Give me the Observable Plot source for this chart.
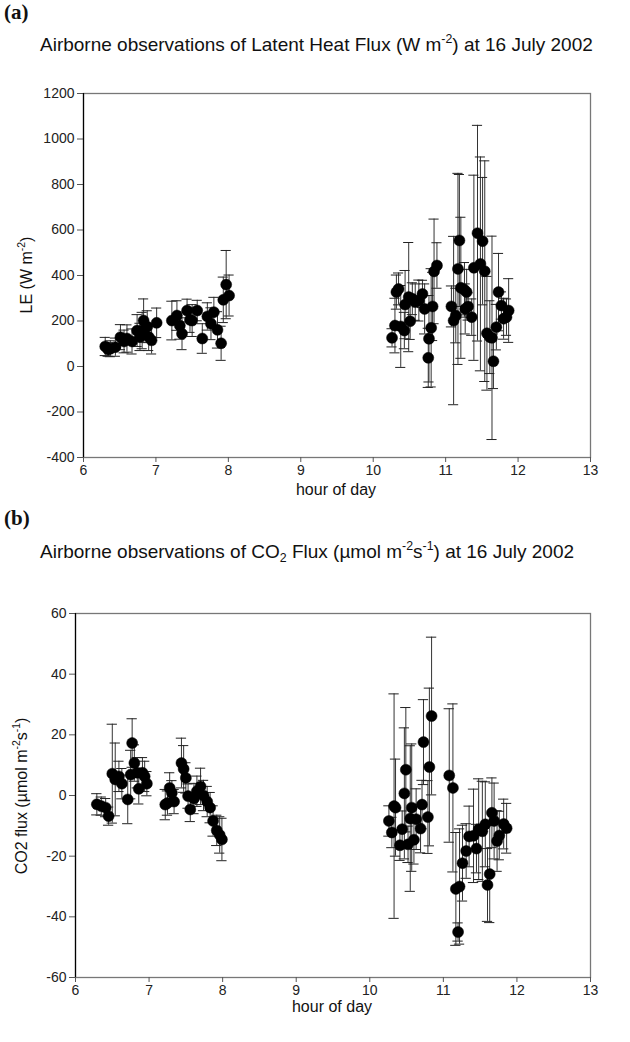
<!DOCTYPE html>
<html><head><meta charset="utf-8">
<script src="https://cdn.jsdelivr.net/npm/d3@7"></script>
<script src="https://cdn.jsdelivr.net/npm/@observablehq/plot@0.6"></script>
<style>
body{margin:0;background:#fff;}
#root{position:relative;width:630px;height:1042px;font-family:"Liberation Sans",Arial,sans-serif;color:#111;overflow:hidden;}
.panel{position:absolute;left:4px;font-family:"Liberation Serif","Times New Roman",serif;font-weight:bold;font-size:21px;line-height:1;}
.title{position:absolute;left:40px;font-size:19px;white-space:nowrap;line-height:1;}
.ylab{position:absolute;transform:translate(-50%,-50%) rotate(-90deg);white-space:nowrap;font-size:16px;line-height:1;}
.xlab{position:absolute;transform:translate(-50%,-50%);white-space:nowrap;font-size:16px;line-height:1;}
.chart{position:absolute;left:0;}
sup,sub{font-size:65%;line-height:0;position:relative;vertical-align:baseline;}
sup{top:-0.65em;}
sub{top:0.35em;}
</style>
</head><body>
<div id="root">
  <div class="panel" style="top:2px">(a)</div>
  <div class="title" style="top:35px">Airborne observations of Latent Heat Flux (W m<sup>-2</sup>) at 16 July 2002</div>
  <div class="chart" id="chartA" style="top:70px"></div>
  <div class="ylab" style="left:27px;top:275px">LE (W m<sup>-2</sup>)</div>
  <div class="xlab" style="left:336px;top:490px">hour of day</div>
  <div class="panel" style="top:508px">(b)</div>
  <div class="title" style="top:542px">Airborne observations of CO<sub>2</sub> Flux (&micro;mol m<sup>-2</sup>s<sup>-1</sup>) at 16 July 2002</div>
  <div class="chart" id="chartB" style="top:590px"></div>
  <div class="ylab" style="left:22px;top:796px">CO2 flux (&micro;mol m<sup>-2</sup>s<sup>-1</sup>)</div>
  <div class="xlab" style="left:332px;top:1007px">hour of day</div>
</div>
<script>
// ---- shared x ticks ----
const xTicks = [6, 7, 8, 9, 10, 11, 12, 13];

// ---- panel (a): Latent heat flux ----
const leTicks = [-400, -200, 0, 200, 400, 600, 800, 1000, 1200];
const leHours = [6.30,6.34,6.37,6.44,6.51,6.56,6.60,6.67,6.74,6.78,6.81,6.83,6.88,6.90,6.94,7.01,
  7.22,7.29,7.33,7.36,7.43,7.47,7.50,7.57,7.64,7.71,7.76,7.80,7.85,7.90,7.93,7.97,8.01,
  10.26,10.30,10.32,10.35,10.38,10.43,10.44,10.49,10.51,10.54,10.58,10.63,10.68,10.71,10.76,10.77,10.80,10.82,10.84,10.88,
  11.08,11.11,11.14,11.17,11.19,11.21,11.26,11.27,11.29,11.31,11.36,11.39,11.44,11.48,11.51,11.54,11.57,11.61,11.64,11.66,
  11.70,11.73,11.77,11.80,11.84,11.87];
const leValues = [88,75,78,85,129,110,123,110,158,130,158,202,175,130,115,192,
  202,224,180,144,246,205,202,246,123,220,188,239,161,102,293,360,312,
  126,180,327,341,176,158,272,305,199,298,283,290,319,253,38,122,170,264,418,444,
  264,202,224,429,554,346,337,253,327,264,217,434,586,451,551,419,146,129,126,23,
  173,327,268,210,217,246];
const leErrors = [40,30,35,40,55,50,60,55,70,60,80,95,70,60,60,65,
  85,65,60,70,50,55,70,45,65,60,70,65,80,75,100,150,90,
  40,120,75,70,180,80,150,240,80,70,80,90,60,110,130,190,260,150,230,100,
  90,370,120,420,290,310,120,110,100,60,80,407,474,470,280,485,250,160,447,120,
  100,170,60,90,80,140];

// ---- panel (b): CO2 flux ----
const co2Ticks = [-60, -40, -20, 0, 20, 40, 60];
const co2Hours = [6.29,6.35,6.41,6.45,6.50,6.54,6.59,6.63,6.71,6.75,6.77,6.80,6.84,6.86,6.91,6.94,6.97,
  7.22,7.25,7.28,7.31,7.34,7.44,7.47,7.50,7.53,7.56,7.61,7.65,7.70,7.74,7.79,7.83,7.87,7.92,7.96,7.99,
  10.26,10.30,10.33,10.35,10.41,10.44,10.47,10.49,10.52,10.55,10.57,10.60,10.63,10.69,10.71,10.73,10.79,10.81,10.84,
  11.08,11.13,11.17,11.20,11.22,11.26,11.31,11.35,11.41,11.45,11.48,11.53,11.57,11.60,11.63,11.66,11.69,11.73,11.76,11.82,11.86];
const co2Values = [-2.9,-3.5,-4,-6.8,7.2,5.3,6.3,3.9,-1.3,6.9,17.3,10.7,7.5,2.2,7.5,6.3,3.9,
  -3,-2.5,2.5,0.9,-2,10.7,8.75,5.8,-0.2,-4.6,-1,1.4,3,0,-2,-4,-8.4,-11.5,-13,-14.5,
  -8.4,-12.2,-3.5,-4,-16.4,-11.1,0.7,8.5,-16.1,-7.6,-4,-14.6,-7.8,-10.9,-3,17.6,-7.1,9.4,26.2,
  6.6,2.5,-30.8,-45,-30,-22.3,-18.3,-13.5,-13.3,-17.5,-11.1,-11.8,-9.5,-29.5,-25.9,-5.7,-8.4,-15,-13.2,-9.4,-10.8];
const co2Errors = [3.5,3,3,3,16.3,12,5,5,8,8,8,6,5,5,5,5,4,
  5,4,5,4,4,8.2,7.7,5,4,4,5,5,6,5,5,5,5,5,6,7,
  5,5,37,16,5,6,21.6,20.5,6,24,21,8,10,8,8,14,12,26,26,
  22,27.7,18.6,3,19,12.5,9,10,15.4,8,16.6,16.5,14,12,16,11.5,12.5,10,8,8.2,8.2];

function makePanel({hours, values, errors, yDomain, yTicks, marginLeft, capHalf}) {
  const data = hours.map((h, i) => ({h, v: values[i], e: errors[i]}));
  const fmt = d => String(d);
  return Plot.plot({
    width: 630, height: 440,
    marginTop: 23, marginBottom: 53, marginLeft, marginRight: 40,
    x: {domain: [6, 13], label: null},
    y: {domain: yDomain, label: null},
    style: {fontFamily: '"Liberation Sans", Arial, sans-serif', fontSize: "14px", color: "#222", background: "white", overflow: "visible"},
    marks: [
      Plot.frame({stroke: "#777", strokeWidth: 1.3}),
      Plot.ruleX(data, {x: "h", y1: d => d.v - d.e, y2: d => d.v + d.e, stroke: "#333", strokeWidth: 1}),
      Plot.ruleY(data, {y: d => d.v + d.e, x1: d => d.h - capHalf, x2: d => d.h + capHalf, stroke: "#222", strokeWidth: 1}),
      Plot.ruleY(data, {y: d => d.v - d.e, x1: d => d.h - capHalf, x2: d => d.h + capHalf, stroke: "#222", strokeWidth: 1}),
      Plot.dot(data, {x: "h", y: "v", r: 5.5, fill: "black", stroke: "black", strokeWidth: 0.5}),
      Plot.axisX({ticks: xTicks, tickFormat: fmt, tickSize: 5, tickPadding: 3, stroke: "#555"}),
      Plot.axisY({ticks: yTicks, tickFormat: fmt, tickSize: 6, tickPadding: 3, stroke: "#555"}),
      Plot.ruleX([6], {stroke: "black", strokeWidth: 1.2})
    ]
  });
}

document.getElementById("chartA").append(makePanel({
  hours: leHours, values: leValues, errors: leErrors,
  yDomain: [-400, 1200], yTicks: leTicks, marginLeft: 83, capHalf: 0.07
}));
document.getElementById("chartB").append(makePanel({
  hours: co2Hours, values: co2Values, errors: co2Errors,
  yDomain: [-60, 60], yTicks: co2Ticks, marginLeft: 75, capHalf: 0.07
}));
</script>
</body></html>
